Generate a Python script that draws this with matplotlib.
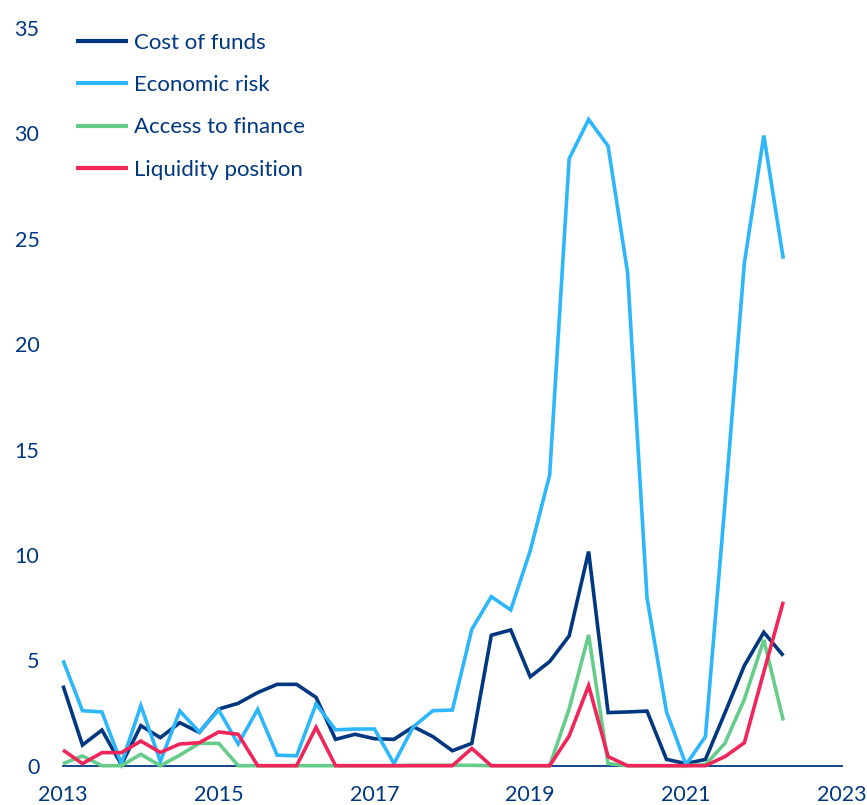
import matplotlib
matplotlib.use("Agg")
import matplotlib.pyplot as plt
import pandas as pd

# ---- data (quarterly, 2013Q1 - 2022Q2) ----
quarters = pd.period_range("2013Q1", "2022Q2", freq="Q")
cost_of_funds = [3.8, 0.98, 1.69, 0.05, 1.9, 1.33, 2.04, 1.58, 2.69, 2.96, 3.47, 3.86, 3.86, 3.24,
                 1.25, 1.49, 1.28, 1.25, 1.85, 1.38, 0.71, 1.06, 6.19, 6.44, 4.22, 4.94, 6.16, 10.16,
                 2.52, 2.55, 2.59, 0.3, 0.1, 0.3, 2.5, 4.75, 6.33, 5.22]
economic_risk = [5.0, 2.61, 2.55, 0.1, 2.85, 0.2, 2.6, 1.6, 2.64, 1.03, 2.67, 0.5, 0.47, 2.93,
                 1.7, 1.74, 1.74, 0.1, 1.85, 2.61, 2.64, 6.47, 8.02, 7.39, 10.2, 13.8, 28.8, 30.66,
                 29.4, 23.4, 7.95, 2.56, 0.05, 1.38, 12.4, 23.85, 29.9, 24.05]
access_to_finance = [0.1, 0.46, 0, 0, 0.54, 0, 0.5, 1.06, 1.06, 0, 0, 0, 0, 0,
                     0, 0, 0, 0, 0.02, 0.02, 0.02, 0.02, 0, 0, 0, 0, 2.7, 6.2,
                     0.1, 0, 0, 0, 0, 0.05, 1.06, 3.15, 5.97, 2.14]
liquidity_position = [0.74, 0.1, 0.62, 0.62, 1.17, 0.63, 1.03, 1.09, 1.6, 1.49, 0, 0, 0, 1.82,
                      0, 0, 0, 0, 0, 0, 0, 0.82, 0, 0, 0, 0, 1.41, 3.8,
                      0.43, 0, 0, 0, 0, 0, 0.43, 1.09, 4.45, 7.78]
series_names = ["Cost of funds", "Economic risk", "Access to finance", "Liquidity position"]
x_ticks = [2013, 2015, 2017, 2019, 2021, 2023]
y_ticks = [0, 5, 10, 15, 20, 25, 30, 35]

# ---- style ----
NAVY = "#003781"
colors = [NAVY, "#2DB7FA", "#66CC8A", "#F0265A"]
plt.rcParams["font.family"] = ["Lato", "DejaVu Sans"]

x = [q.year + (q.quarter - 1) / 4 for q in quarters]

fig = plt.figure(figsize=(8.67, 8.05), dpi=100)
ax = fig.add_axes([63 / 867, 39.3 / 805, (841.7 - 63) / 867, (765.7 - 28) / 805])

for vals, name, c in zip([cost_of_funds, economic_risk, access_to_finance, liquidity_position],
                         series_names, colors):
    ax.plot(x, vals, color=c, lw=2.6, label=name, solid_joinstyle="miter", solid_capstyle="butt")

ax.set_xlim(2013, 2023)
ax.set_ylim(0, 35)
ax.set_xticks(x_ticks)
ax.set_yticks(y_ticks)
for s in ["top", "right", "left"]:
    ax.spines[s].set_visible(False)
ax.spines["bottom"].set_color(NAVY)
ax.spines["bottom"].set_linewidth(1.3)
ax.spines["bottom"].set_zorder(0.5)
ax.tick_params(axis="both", length=0, colors=NAVY, labelsize=15.5)
ax.tick_params(axis="y", pad=17)
ax.tick_params(axis="x", pad=14)
for ln in ax.lines:
    ln.set_clip_on(False)

leg = ax.legend(loc="upper left", bbox_to_anchor=(67 / 867, 1 - 24 / 805),
                bbox_transform=fig.transFigure, frameon=False, fontsize=16,
                handlelength=2.34, handletextpad=0.27, labelspacing=1.0, borderaxespad=0)
for t in leg.get_texts():
    t.set_color(NAVY)
for h in leg.get_lines():
    h.set_linewidth(3.0)

fig.savefig("out.png", dpi=100)
